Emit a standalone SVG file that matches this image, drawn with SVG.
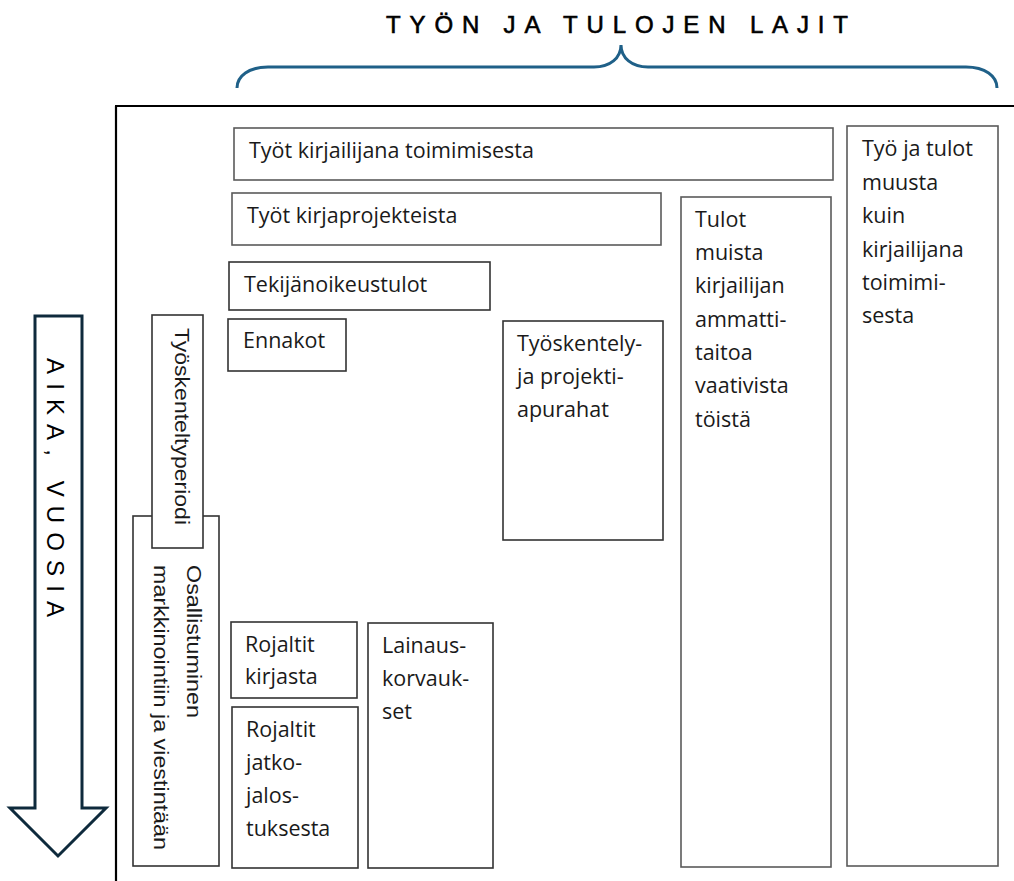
<svg xmlns="http://www.w3.org/2000/svg" width="1014" height="881" viewBox="0 0 1014 881">
<style>
.box{fill:#fff;stroke:#5a5a5a;stroke-width:1.6}
.dk{stroke:#333}
.t{font-family:"Open Sans","Liberation Sans",Arial,sans-serif;font-size:21.5px;fill:#1a1a1a}
.r{font-family:"Liberation Sans",Arial,sans-serif;font-size:21px;fill:#1a1a1a}
.title{font-family:"Liberation Sans",Arial,sans-serif;font-size:24px;fill:#000}
</style>
<rect width="1014" height="881" fill="#fff"/>
<g id="title">
<text class="title" x="386" y="33" stroke="#000" stroke-width="0.6" textLength="462" lengthAdjust="spacing">TYÖN JA TULOJEN LAJIT</text>
<path d="M237,88 C237,76 249,67 268,67 L594,67 C610,67 621,58 621,45 C621,58 632,67 648,67 L966,67 C985,67 997,76 997,88" fill="none" stroke="#1f6088" stroke-width="3"/>
</g>
<g id="frame" fill="none" stroke="#000" stroke-width="2.2">
<path d="M115,106 H1014 M116,106 V881"/>
</g>
<g id="time-arrow">
<path d="M35,316 H82 V808 H106 L58,856 L10,808 H35 Z" fill="#fff" stroke="#0e2a3c" stroke-width="3" stroke-linejoin="miter"/>
<text class="title" font-size="22" transform="translate(47,358) rotate(90)" textLength="259" lengthAdjust="spacing">AIKA, VUOSIA</text>
</g>
<g id="n-kirjailijana">
<rect class="box" x="234" y="128" width="599" height="52"/>
<text class="t" x="249" y="158">Työt kirjailijana toimimisesta</text>
</g>
<g id="n-kirjaprojekteista">
<rect class="box" x="232" y="193" width="429" height="52"/>
<text class="t" x="247" y="223">Työt kirjaprojekteista</text>
</g>
<g id="n-tekijanoikeus">
<rect class="box dk" x="229" y="262" width="261" height="48"/>
<text class="t" x="244" y="292">Tekijänoikeustulot</text>
</g>
<g id="n-ennakot">
<rect class="box dk" x="228" y="319" width="118" height="52"/>
<text class="t" x="243" y="348">Ennakot</text>
</g>
<g id="n-osallistuminen">
<rect class="box dk" x="133" y="516" width="86" height="350"/>
<text class="r" transform="translate(187,565) rotate(90)" textLength="153" lengthAdjust="spacingAndGlyphs">Osallistuminen</text>
<text class="r" transform="translate(154,565) rotate(90)" textLength="285" lengthAdjust="spacingAndGlyphs">markkinointiin ja viestintään</text>
</g>
<g id="n-tyoskenteltyperiodi">
<rect class="box dk" x="152" y="315" width="51" height="233"/>
<text class="r" transform="translate(175,328) rotate(90)" textLength="197" lengthAdjust="spacingAndGlyphs">Työskenteltyperiodi</text>
</g>
<g id="n-apurahat">
<rect class="box dk" x="503" y="321" width="160" height="219"/>
<text class="t" x="517" y="351">Työskentely-</text>
<text class="t" x="517" y="384">ja projekti-</text>
<text class="t" x="517" y="417">apurahat</text>
</g>
<g id="n-tulot-muista">
<rect class="box" x="681" y="197" width="150" height="670"/>
<text class="t" x="695" y="227">Tulot</text>
<text class="t" x="695" y="260">muista</text>
<text class="t" x="695" y="293">kirjailijan</text>
<text class="t" x="695" y="327">ammatti-</text>
<text class="t" x="695" y="360">taitoa</text>
<text class="t" x="695" y="393">vaativista</text>
<text class="t" x="695" y="427">töistä</text>
</g>
<g id="n-muusta">
<rect class="box" x="847" y="126" width="151" height="740"/>
<text class="t" x="862" y="156">Työ ja tulot</text>
<text class="t" x="862" y="190">muusta</text>
<text class="t" x="862" y="223">kuin</text>
<text class="t" x="862" y="257">kirjailijana</text>
<text class="t" x="862" y="290">toimimi-</text>
<text class="t" x="862" y="323">sesta</text>
</g>
<g id="n-rojaltit-kirjasta">
<rect class="box dk" x="231" y="622" width="126" height="76"/>
<text class="t" x="245" y="652">Rojaltit</text>
<text class="t" x="245" y="684">kirjasta</text>
</g>
<g id="n-rojaltit-jatko">
<rect class="box dk" x="232" y="707" width="126" height="161"/>
<text class="t" x="246" y="737">Rojaltit</text>
<text class="t" x="246" y="770">jatko-</text>
<text class="t" x="246" y="803">jalos-</text>
<text class="t" x="246" y="836">tuksesta</text>
</g>
<g id="n-lainaus">
<rect class="box dk" x="368" y="623" width="125" height="245"/>
<text class="t" x="382" y="653">Lainaus-</text>
<text class="t" x="382" y="686">korvauk-</text>
<text class="t" x="382" y="719">set</text>
</g>
<g id="connectors"></g>
</svg>
